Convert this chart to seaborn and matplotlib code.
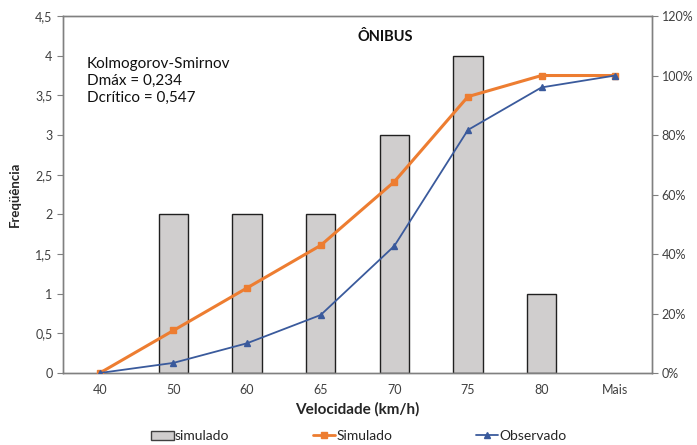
import numpy as np
import matplotlib
matplotlib.use("Agg")
import matplotlib.pyplot as plt
import seaborn as sns
from matplotlib.patches import Patch
from matplotlib.lines import Line2D
from matplotlib.ticker import FuncFormatter, FixedLocator

# dados
categorias = ["40", "50", "60", "65", "70", "75", "80", "Mais"]
freq_simulado = [0, 2, 2, 2, 3, 4, 1, 0]
acum_simulado = [0.0, 14.3, 28.6, 42.9, 64.3, 92.9, 100.0, 100.0]
acum_observado = [0.0, 3.4, 10.0, 19.5, 42.7, 81.7, 96.0, 100.0]

sns.set_style("white")
plt.rcParams["font.family"] = ["Lato", "DejaVu Sans"]

cinza = "#808080"
laranja = "#ED7D31"
azul = "#3A5A9C"

fig = plt.figure(figsize=(6.97, 4.45), dpi=100)
ax = fig.add_axes([0.0904, 0.1618, 0.845, 0.8022])

sns.barplot(x=categorias, y=freq_simulado, ax=ax, color="#D0CECE",
            edgecolor="#202020", linewidth=1.0, width=0.4, saturation=1)
# sem contorno nas barras vazias
for p in ax.patches:
    if p.get_height() == 0:
        p.set_linewidth(0)
ax.set_ylim(0, 4.5)
ax.set_xlim(-0.5, len(categorias) - 0.5)
ax.set_yticks(np.arange(0, 4.51, 0.5))
ax.yaxis.set_major_formatter(FuncFormatter(lambda v, p: f"{v:g}".replace(".", ",")))
ax.xaxis.set_minor_locator(FixedLocator(np.arange(-0.5, len(categorias), 1)))
ax.tick_params(axis="x", which="major", length=0, labelsize=9, colors="#404040", pad=8)
ax.tick_params(axis="x", which="minor", length=4, color=cinza, direction="out")
ax.tick_params(axis="y", length=4, color=cinza, direction="out", labelsize=9,
               labelcolor="#404040", left=True)
for s in ax.spines.values():
    s.set_color(cinza)
    s.set_linewidth(1.0)
ax.set_xlabel("Velocidade (km/h)", fontsize=11, fontweight="bold", labelpad=4)
ax.set_ylabel("Freqüência", fontsize=9.5, fontweight="bold", labelpad=10)

ax2 = ax.twinx()
x = np.arange(len(categorias))
ax2.plot(x, acum_simulado, color=laranja, linewidth=2.2, marker="s", markersize=5,
         zorder=3)
ax2.plot(x, acum_observado, color=azul, linewidth=1.3, marker="^", markersize=5,
         zorder=4)
ax2.set_ylim(0, 120)
ax2.set_yticks(np.arange(0, 121, 20))
ax2.yaxis.set_major_formatter(FuncFormatter(lambda v, p: f"{v:.0f}%"))
ax2.tick_params(axis="y", length=4, color=cinza, direction="out", labelsize=9,
                labelcolor="#404040", right=True, pad=3)
for s in ax2.spines.values():
    s.set_color(cinza)
    s.set_linewidth(1.0)

ax.text(0.04, 0.885, "Kolmogorov-Smirnov\nDmáx = 0,234\nDcrítico = 0,547",
        transform=ax.transAxes, fontsize=11, va="top", ha="left",
        linespacing=1.25, color="#101010")
ax.text(0.5, 0.94, "ÔNIBUS", transform=ax.transAxes, fontsize=10.5,
        fontweight="bold", ha="left", va="center", color="#101010")

handles = [
    Patch(facecolor="#D0CECE", edgecolor="#404040", label="simulado"),
    Line2D([], [], color=laranja, linewidth=2, marker="s", markersize=5, label="Simulado"),
    Line2D([], [], color=azul, linewidth=1.3, marker="^", markersize=5, label="Observado"),
]
fig.legend(handles=handles, loc="lower center", ncol=3, frameon=False,
           bbox_to_anchor=(0.515, -0.022), fontsize=10, columnspacing=6,
           handlelength=1.6, handletextpad=0.1)

fig.savefig("out.png", dpi=100)
